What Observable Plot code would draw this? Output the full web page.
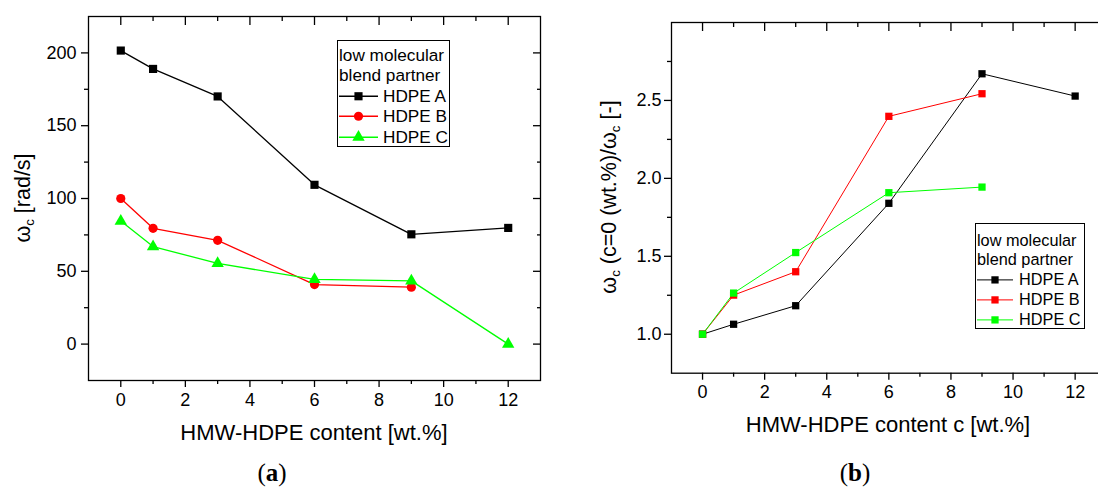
<!DOCTYPE html>
<html>
<head>
<meta charset="utf-8">
<script src="https://cdn.jsdelivr.net/npm/d3@7"></script>
<script src="https://cdn.jsdelivr.net/npm/@observablehq/plot@0.6"></script>
<style>
  html, body { margin: 0; padding: 0; background: #fff; }
  body { width: 1098px; height: 488px; overflow: hidden; position: relative;
         font-family: "Liberation Sans", Arial, sans-serif; color: #000; }
  .xtitle { position: absolute; font-size: 22px; white-space: nowrap; transform: translate(-50%, -50%); }
  .ytitle { position: absolute; font-size: 21.5px; white-space: nowrap; transform: translate(-50%, -50%) rotate(-90deg); }
  .ytitle sub, .xtitle sub { font-size: 0.62em; vertical-align: -0.35em; }
  .tag { position: absolute; font-family: "Liberation Serif", "DejaVu Serif", serif; font-size: 25px;
         white-space: nowrap; transform: translate(-50%, -50%); }
  .tag b { font-weight: bold; }
  .legend { position: absolute; border: 1px solid #000; background: #fff; box-sizing: border-box; }
  .legend .row { display: flex; align-items: center; white-space: nowrap; }
  .legend svg { display: block; flex: none; }
</style>
</head>
<body>
<script>
// HMW-HDPE content c [wt.%]
const content = [0, 1, 3, 6, 9, 12];

// low molecular blend partners
const seriesNames = ["HDPE A", "HDPE B", "HDPE C"];
const seriesColors = ["#000000", "#ff0000", "#00ff00"];
const seriesSymbols = ["square", "circle", "triangle"];

// crossover frequency ω_c [rad/s]
const omegaA = [201.6, 189.0, 170.1, 109.4, 75.4, 79.8];
const omegaB = [100.0, 79.5, 71.3, 40.9, 39.1, null];
const omegaC = [84.5, 67.0, 55.4, 44.4, 43.4, 0.0];

// ratio ω_c(c=0) / ω_c [-]
const ratioA = [1.0, 1.064, 1.183, 1.840, 2.671, 2.528];
const ratioB = [1.0, 1.251, 1.401, 2.398, 2.543, null];
const ratioC = [1.0, 1.264, 1.524, 1.908, 1.944, null];

// axis ticks
const xTicks = [0, 2, 4, 6, 8, 10, 12];
const xMinor = [1, 3, 5, 7, 9, 11];
const omegaTicks = [0, 50, 100, 150, 200];
const omegaMinor = [25, 75, 125, 175];
const ratioTicks = [1.0, 1.5, 2.0, 2.5];
const ratioMinor = [1.25, 1.75, 2.25, 2.75];

function toRows(columns) {
  const rows = [];
  columns.forEach((values, i) => {
    values.forEach((v, j) => {
      if (v != null) rows.push({x: content[j], y: v, s: seriesNames[i]});
    });
  });
  return rows;
}

const blank = () => "";

function panel(o) {
  return Plot.plot({
    width: o.width, height: o.height,
    marginLeft: o.marginLeft, marginRight: o.marginRight,
    marginTop: o.marginTop, marginBottom: o.marginBottom,
    style: {fontFamily: '"Liberation Sans", Arial, sans-serif', fontSize: "18px", color: "#000",
            background: "transparent", overflow: "visible"},
    x: {domain: [-1, 13]},
    y: {domain: o.yDomain},
    color: {domain: seriesNames, range: seriesColors},
    symbol: {domain: seriesNames, range: o.symbols},
    marks: [
      Plot.frame({stroke: "#000", strokeWidth: 1.3}),
      Plot.axisX({anchor: "bottom", ticks: xTicks, tickSize: 7, tickPadding: o.xPad, tickFormat: d => d,
                  label: null, strokeWidth: 1.3}),
      Plot.axisX({anchor: "bottom", ticks: xMinor, tickSize: 4, tickFormat: blank, label: null, strokeWidth: 1.3}),
      Plot.axisX({anchor: "top", ticks: xTicks, tickSize: 8, dy: 8, tickFormat: blank, label: null, strokeWidth: 1.3}),
      Plot.axisX({anchor: "top", ticks: xMinor, tickSize: 4, dy: 4, tickFormat: blank, label: null, strokeWidth: 1.3}),
      Plot.axisY({anchor: "left", ticks: o.yTicks, tickSize: 7, tickPadding: o.yPad, tickFormat: o.yFormat,
                  label: null, strokeWidth: 1.3}),
      Plot.axisY({anchor: "left", ticks: o.yMinor, tickSize: 4, tickFormat: blank, label: null, strokeWidth: 1.3}),
      Plot.axisY({anchor: "right", ticks: o.yTicks, tickSize: 8, dx: -8, tickFormat: blank, label: null, strokeWidth: 1.3}),
      Plot.axisY({anchor: "right", ticks: o.yMinor, tickSize: 4, dx: -4, tickFormat: blank, label: null, strokeWidth: 1.3}),
      Plot.line(o.rows, {x: "x", y: "y", z: "s", stroke: "s", strokeWidth: o.lineWidth}),
      Plot.dot(o.rows, {x: "x", y: "y", fill: "s", symbol: "s", r: o.r, stroke: null})
    ]
  });
}

function place(el, left, top) {
  el.style.position = "absolute";
  el.style.left = left + "px";
  el.style.top = top + "px";
  document.body.appendChild(el);
  return el;
}

function html(tag, cls, inner, left, top) {
  const el = document.createElement(tag);
  el.className = cls;
  el.innerHTML = inner;
  return place(el, left, top);
}

function legend({left, top, width, height, fontSize, lineHeight, padTop, sampleWidth, gap, symbols, r, lineWidth}) {
  const box = document.createElement("div");
  box.className = "legend";
  Object.assign(box.style, {width: width + "px", height: height + "px", fontSize: fontSize + "px",
                            lineHeight: lineHeight + "px", paddingTop: padTop + "px", paddingLeft: "1px"});
  ["low molecular", "blend partner"].forEach(t => {
    const d = document.createElement("div");
    d.textContent = t;
    box.appendChild(d);
  });
  seriesNames.forEach((name, i) => {
    const row = document.createElement("div");
    row.className = "row";
    row.style.height = lineHeight + "px";
    const svg = d3.create("svg").attr("width", sampleWidth).attr("height", lineHeight);
    svg.append("line").attr("x1", 0).attr("x2", sampleWidth)
      .attr("y1", lineHeight / 2).attr("y2", lineHeight / 2)
      .attr("stroke", seriesColors[i]).attr("stroke-width", lineWidth);
    const type = {square: d3.symbolSquare, circle: d3.symbolCircle, triangle: d3.symbolTriangle}[symbols[i]];
    svg.append("path").attr("d", d3.symbol(type, Math.PI * r * r)())
      .attr("transform", `translate(${sampleWidth / 2},${lineHeight / 2})`)
      .attr("fill", seriesColors[i]);
    row.appendChild(svg.node());
    const label = document.createElement("span");
    label.textContent = name;
    label.style.marginLeft = gap + "px";
    row.appendChild(label);
    box.appendChild(row);
  });
  return place(box, left, top);
}

// (a) crossover frequency versus HMW-HDPE content
const chartA = panel({
  rows: toRows([omegaA, omegaB, omegaC]),
  width: 549, height: 412, marginLeft: 88, marginRight: 9, marginTop: 16, marginBottom: 32,
  yDomain: [-25, 225], yTicks: omegaTicks, yMinor: omegaMinor, yFormat: d3.format("d"),
  xPad: 6, yPad: 5, symbols: seriesSymbols, r: 4.6, lineWidth: 1.3
});
place(chartA, 0, 0);

// (b) normalised crossover frequency versus HMW-HDPE content
const chartB = panel({
  rows: toRows([ratioA, ratioB, ratioC]),
  width: 560, height: 412, marginLeft: 122, marginRight: 3.3, marginTop: 22, marginBottom: 39.3,
  yDomain: [0.75, 3.0], yTicks: ratioTicks, yMinor: ratioMinor, yFormat: d3.format(".1f"),
  xPad: 5, yPad: 3, symbols: ["square", "square", "square"], r: 4.1, lineWidth: 1
});
place(chartB, 549, 0);

// axis titles
html("div", "xtitle", "HMW-HDPE content [wt.%]", 314, 433);
html("div", "ytitle", "ω<sub>c</sub> [rad/s]", 24, 198);
html("div", "xtitle", "HMW-HDPE content c [wt.%]", 888, 425);
html("div", "ytitle", "ω<sub>c</sub> (c=0 (wt.%)/ω<sub>c</sub> [-]", 610, 197);

// panel tags
html("div", "tag", "(<b>a</b>)", 272, 473);
html("div", "tag", "(<b>b</b>)", 855, 473);

// legends
legend({left: 337, top: 40, width: 113, height: 107, fontSize: 17.2, lineHeight: 20.5, padTop: 3.5,
        sampleWidth: 39, gap: 5, symbols: seriesSymbols, r: 4.6, lineWidth: 1.3});
legend({left: 975, top: 223, width: 110, height: 106, fontSize: 16.3, lineHeight: 19.8, padTop: 6.5,
        sampleWidth: 36, gap: 6, symbols: ["square", "square", "square"], r: 4.1, lineWidth: 1});
</script>
</body>
</html>
